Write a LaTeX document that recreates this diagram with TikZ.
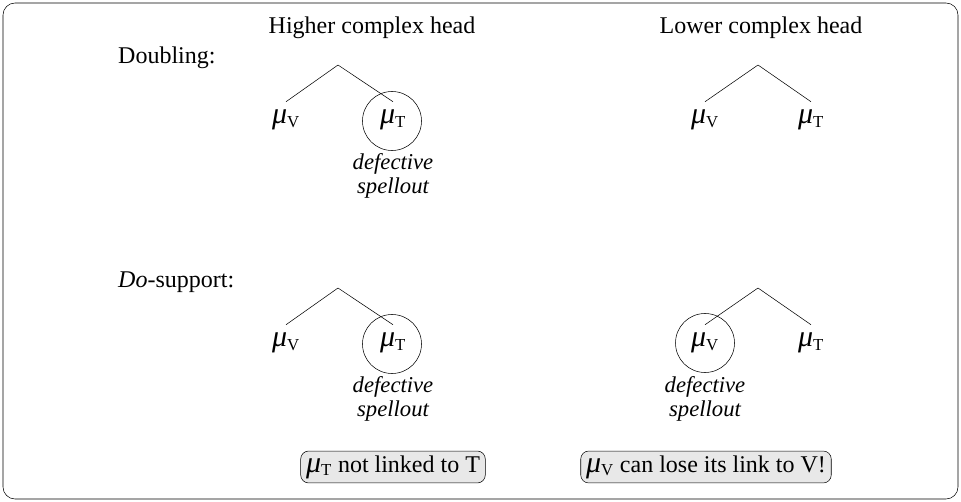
\documentclass[tikz,border=0pt]{standalone}
\usepackage{fontspec}
\setmainfont{Liberation Serif}
\newcommand{\mv}{\scalebox{1.25}{\itshape μ}\textsubscript{V}}
\newcommand{\mt}{\scalebox{1.25}{\itshape μ}\textsubscript{T}}
\tikzset{
  leaf/.style={inner sep=0pt, minimum height=27pt},
  defcirc/.style={draw, circle, minimum size=44.25pt},
  note/.style={align=center, font=\fontsize{17}{17.5}\selectfont\itshape, inner sep=1pt},
  msg/.style={draw, rounded corners=6pt, fill=gray!18, inner xsep=4pt, minimum height=23.5pt}
}
\begin{document}
\begin{tikzpicture}[x=0.75pt,y=-0.75pt,font=\fontsize{18}{22}\selectfont]
\useasboundingbox (0,0) rectangle (961,502);
\draw[rounded corners=9pt] (3,3) rectangle (958,499);
% column heads
\node (hh) at (372,28) {Higher complex head};
\node (lh) at (761,28) {Lower complex head};
\node[anchor=west] (dbl) at (113.5,58) {Doubling:};
\node[anchor=west] (dos) at (113.5,282) {\textit{Do}-support:};
% doubling, higher head
\coordinate (a1) at (338,65);
\node[leaf] (v1) at (286,120) {\mv};
\node[leaf] (t1) at (393,120) {\mt};
\node[defcirc] (c1) at (392,121) {};
\node[note] (n1) at (393,176) {defective\\spellout};
\draw (a1) -- (v1.north);
\draw (a1) -- (t1.north);
% doubling, lower head
\coordinate (a2) at (758,65);
\node[leaf] (v2) at (705,120) {\mv};
\node[leaf] (t2) at (811,120) {\mt};
\draw (a2) -- (v2.north);
\draw (a2) -- (t2.north);
% do-support, higher head
\coordinate (a3) at (338,288);
\node[leaf] (v3) at (286,343) {\mv};
\node[leaf] (t3) at (393,343) {\mt};
\node[defcirc] (c3) at (392,344) {};
\node[note] (n3) at (393,399) {defective\\spellout};
\draw (a3) -- (v3.north);
\draw (a3) -- (t3.north);
% do-support, lower head
\coordinate (a4) at (758,288);
\node[leaf] (v4) at (705,343) {\mv};
\node[leaf] (t4) at (811,343) {\mt};
\node[defcirc] (c4) at (705,343) {};
\node[note] (n4) at (705,399) {defective\\spellout};
\draw (a4) -- (v4.north);
\draw (a4) -- (t4.north);
% remarks
\node[msg] (m1) at (393,467) {\mt{} not linked to T};
\node[msg] (m2) at (706,467) {\mv{} can lose its link to V!};
\end{tikzpicture}
\end{document}
